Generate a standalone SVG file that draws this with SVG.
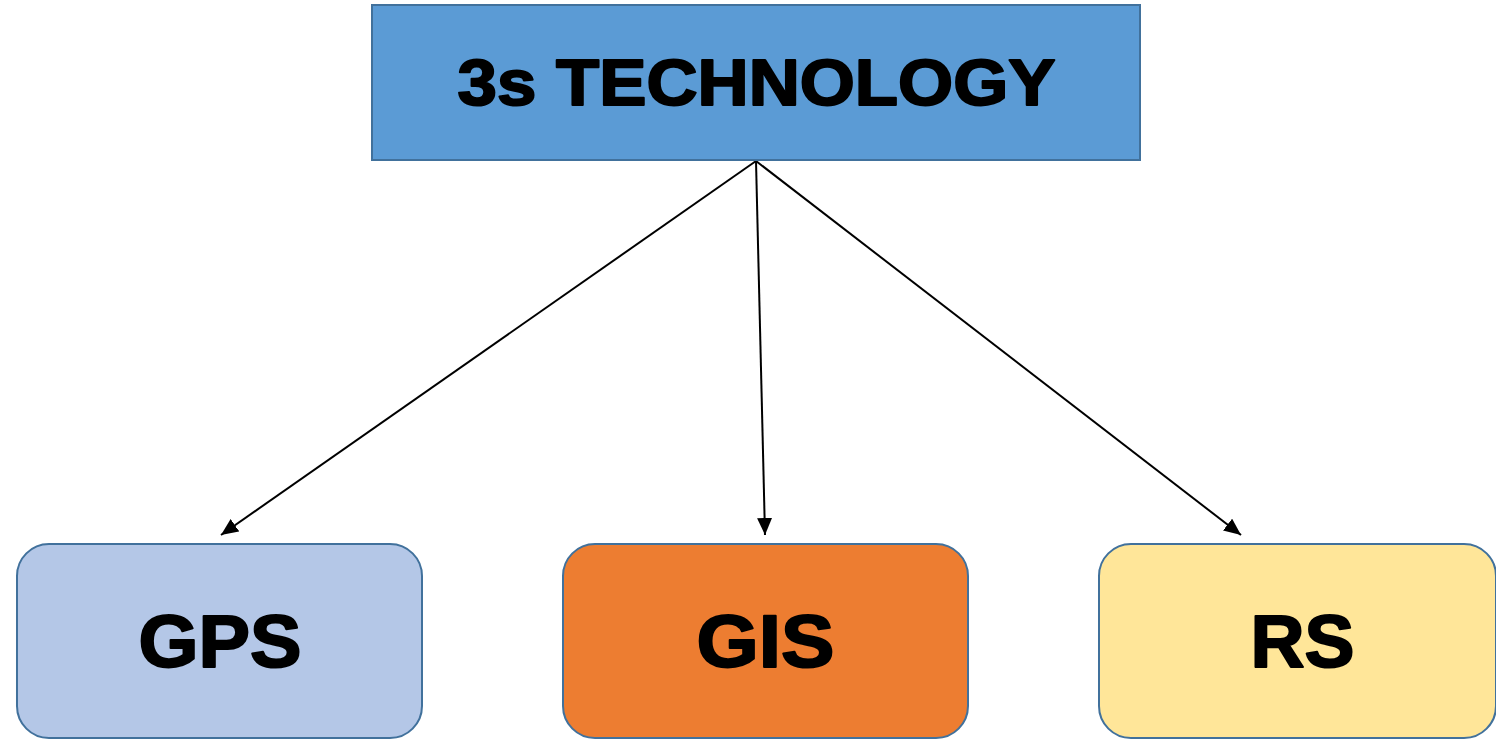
<svg xmlns="http://www.w3.org/2000/svg" width="1496" height="739" viewBox="0 0 1496 739">
<style>
.lbl{font-family:"Liberation Sans",Arial,sans-serif;font-weight:bold;fill:#000;stroke:#000;stroke-width:2;stroke-linejoin:round;text-anchor:middle}
.box{stroke:#41719C;stroke-width:2}
.conn{stroke:#000;stroke-width:2;fill:none;marker-end:url(#ah)}
</style>
<defs>
<marker id="ah" markerWidth="17" markerHeight="15" refX="17" refY="7.5" orient="auto" markerUnits="userSpaceOnUse" viewBox="0 0 17 15">
<path d="M0,0 L17,7.5 L0,15 z" fill="#000"/>
</marker>
</defs>
<rect width="1496" height="739" fill="#fff"/>
<g id="connectors">
<line class="conn" x1="756" y1="161" x2="221" y2="535"/>
<line class="conn" x1="756" y1="161" x2="765" y2="535"/>
<line class="conn" x1="756" y1="161" x2="1241" y2="535"/>
</g>
<g id="top">
<rect class="box" x="372" y="5" width="768" height="155" fill="#5B9BD5"/>
<text class="lbl" x="756.5" y="105" font-size="65" textLength="598" lengthAdjust="spacingAndGlyphs">3s TECHNOLOGY</text>
</g>
<g id="gps">
<rect class="box" x="17" y="544" width="405" height="194" rx="32" fill="#B4C7E7"/>
<text class="lbl" x="220" y="667" font-size="74" textLength="163" lengthAdjust="spacingAndGlyphs">GPS</text>
</g>
<g id="gis">
<rect class="box" x="563" y="544" width="405" height="194" rx="32" fill="#ED7D31"/>
<text class="lbl" x="765.5" y="667" font-size="74" textLength="138" lengthAdjust="spacingAndGlyphs">GIS</text>
</g>
<g id="rs">
<rect class="box" x="1099" y="544" width="397" height="194" rx="32" fill="#FFE699"/>
<text class="lbl" x="1302.5" y="667" font-size="74" textLength="104" lengthAdjust="spacingAndGlyphs">RS</text>
</g>
</svg>
